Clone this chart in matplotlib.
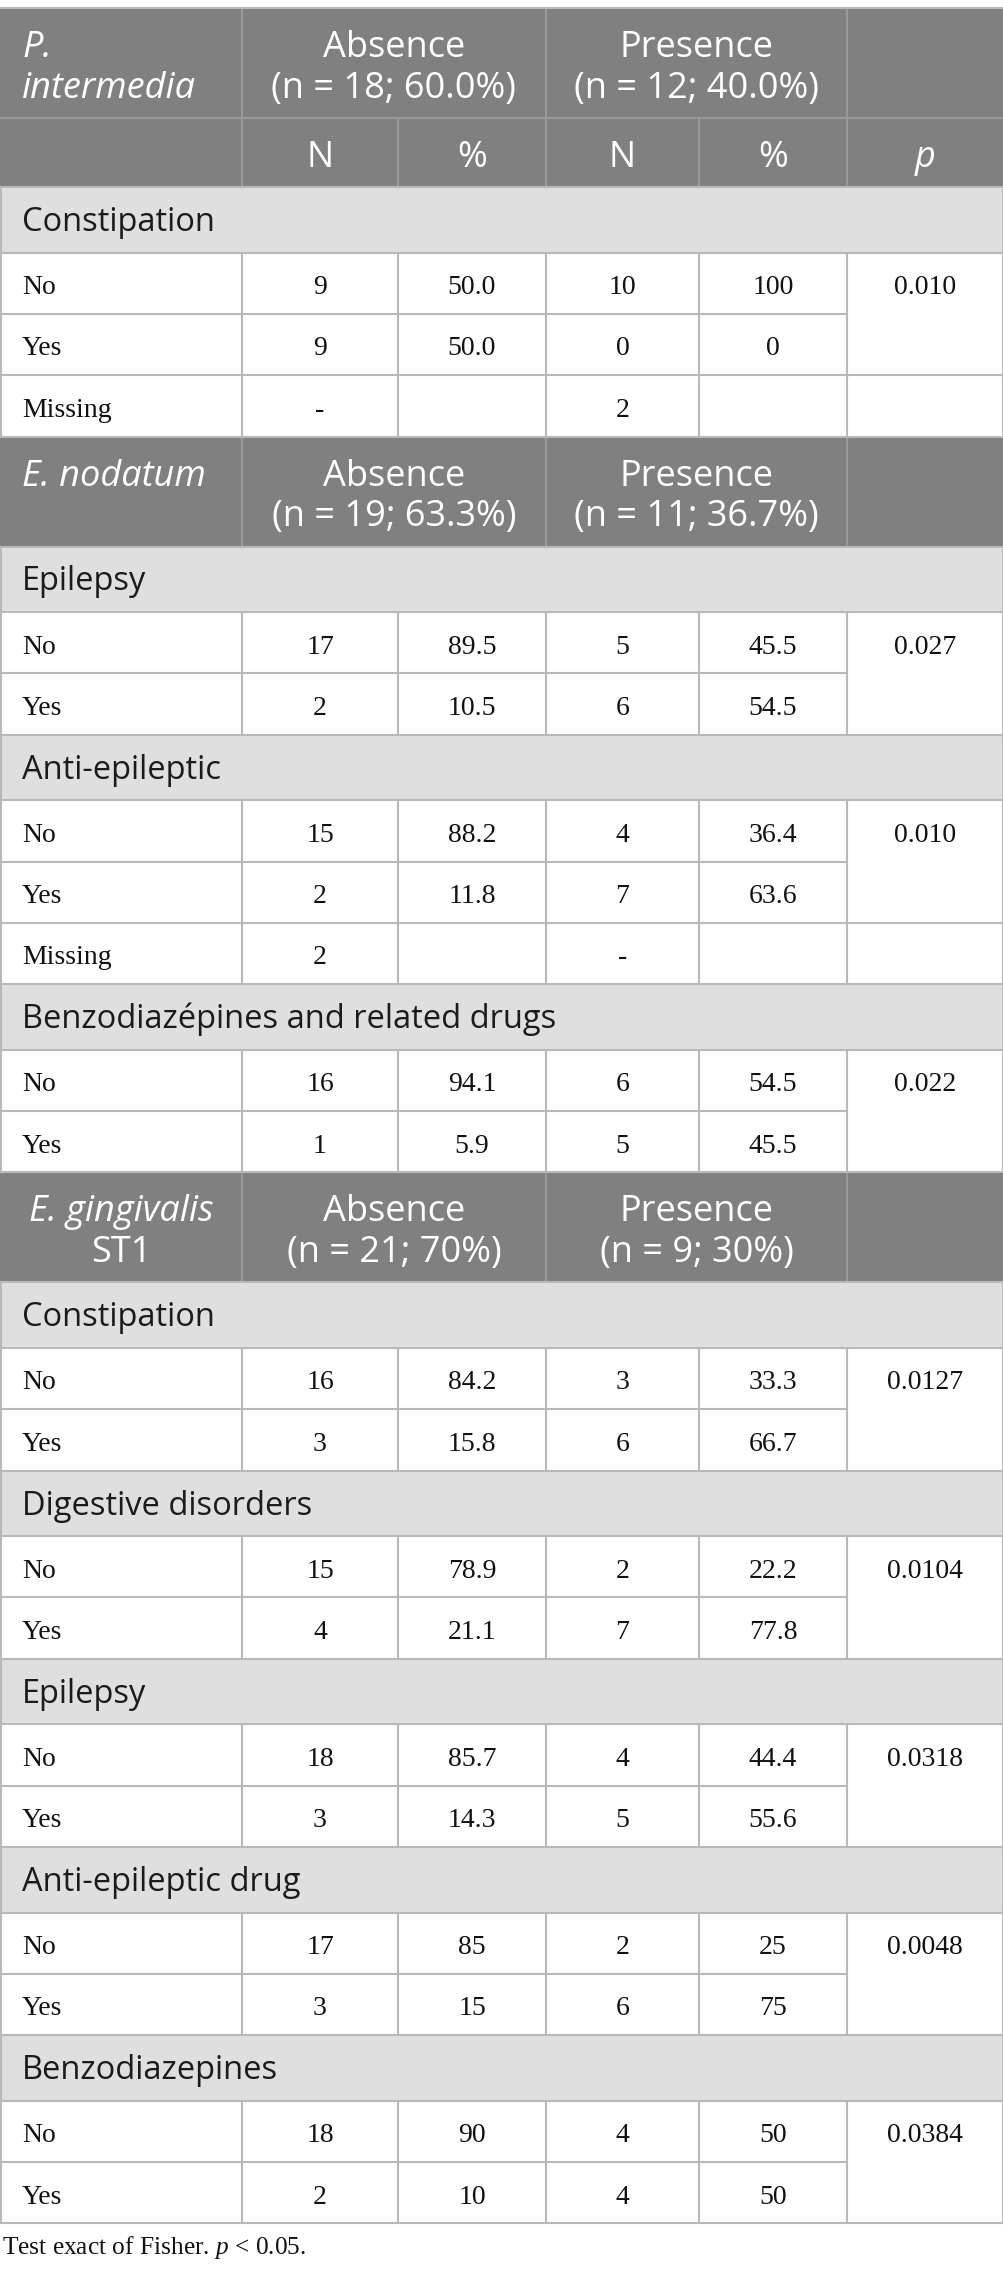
import matplotlib.pyplot as plt
from matplotlib.patches import Rectangle

# Table data
block_titles = [["P.", "intermedia"], ["E. nodatum"], ["E. gingivalis", "ST1"]]
absence_labels = ["(n = 18; 60.0%)", "(n = 19; 63.3%)", "(n = 21; 70%)"]
presence_labels = ["(n = 12; 40.0%)", "(n = 11; 36.7%)", "(n = 9; 30%)"]
sub_headers = ["N", "%", "N", "%", "p"]

variables = ["Constipation", "Epilepsy", "Anti-epileptic",
             "Benzodiazépines and related drugs", "Constipation",
             "Digestive disorders", "Epilepsy", "Anti-epileptic drug",
             "Benzodiazepines"]
variable_block = [0, 1, 1, 1, 2, 2, 2, 2, 2]
row_labels = [["No", "Yes", "Missing"], ["No", "Yes"], ["No", "Yes", "Missing"],
              ["No", "Yes"], ["No", "Yes"], ["No", "Yes"], ["No", "Yes"],
              ["No", "Yes"], ["No", "Yes"]]
absence_n = [["9", "9", "-"], ["17", "2"], ["15", "2", "2"], ["16", "1"],
             ["16", "3"], ["15", "4"], ["18", "3"], ["17", "3"], ["18", "2"]]
absence_pct = [["50.0", "50.0", ""], ["89.5", "10.5"], ["88.2", "11.8", ""],
               ["94.1", "5.9"], ["84.2", "15.8"], ["78.9", "21.1"],
               ["85.7", "14.3"], ["85", "15"], ["90", "10"]]
presence_n = [["10", "0", "2"], ["5", "6"], ["4", "7", "-"], ["6", "5"],
              ["3", "6"], ["2", "7"], ["4", "5"], ["2", "6"], ["4", "4"]]
presence_pct = [["100", "0", ""], ["45.5", "54.5"], ["36.4", "63.6", ""],
                ["54.5", "45.5"], ["33.3", "66.7"], ["22.2", "77.8"],
                ["44.4", "55.6"], ["25", "75"], ["50", "50"]]
p_values = ["0.010", "0.027", "0.010", "0.022", "0.0127", "0.0104",
            "0.0318", "0.0048", "0.0384"]
footnote = r"Test exact of Fisher. $p$ < 0.05."

# Layout (pixels)
W, H = 1004, 2277
col_x = [0, 242, 398, 546, 699, 847, 1003]
TOP = 8
HEAD_H = 110
SUB_H = 69
SEC_H = 65.6
ROW_H = 61.3

DARK = "#7f807f"
LIGHT = "#e0dfe0"
HEAD_LINE = "#999999"
GRID = "#b9b9b9"
SANS = "Open Sans"
SERIF = "Liberation Serif"

plt.rcParams["mathtext.fontset"] = "custom"
plt.rcParams["mathtext.rm"] = SERIF
plt.rcParams["mathtext.it"] = SERIF + ":italic"

fig = plt.figure(figsize=(W / 100, H / 100), dpi=100)
ax = fig.add_axes([0, 0, 1, 1])
ax.set_xlim(0, W)
ax.set_ylim(H, 0)
ax.axis("off")

centers = [(col_x[i] + col_x[i + 1]) / 2 for i in range(1, 6)]


def hline(y, x0, x1, color=GRID):
    ax.plot([x0, x1], [y, y], color=color, lw=1.5, solid_capstyle="butt", zorder=3)


def vline(x, y0, y1, color=GRID):
    ax.plot([x, x], [y0, y1], color=color, lw=1.5, solid_capstyle="butt", zorder=3)


y = TOP
for b in range(3):
    # Block header
    ax.add_patch(Rectangle((0, y), W - 1, HEAD_H, color=DARK, lw=0, zorder=1))
    for x in [col_x[1], col_x[3], col_x[5]]:
        vline(x, y, y + HEAD_H, HEAD_LINE)
    hline(y, 0, W - 1)
    title = block_titles[b]
    if b == 2:
        ax.text(col_x[1] / 2, y + 49, title[0], fontsize=26, family=SANS,
                style="italic", color="white", ha="center", va="baseline", zorder=4)
        ax.text(col_x[1] / 2, y + 90, title[1], fontsize=26, family=SANS,
                color="white", ha="center", va="baseline", zorder=4)
    else:
        for k, line in enumerate(title):
            ax.text(22, y + 49 + 41 * k, line, fontsize=26, family=SANS,
                    style="italic", color="white", ha="left", va="baseline", zorder=4)
    for x_mid, word, label in [((col_x[1] + col_x[3]) / 2, "Absence", absence_labels[b]),
                               ((col_x[3] + col_x[5]) / 2, "Presence", presence_labels[b])]:
        ax.text(x_mid, y + 49, word, fontsize=26, family=SANS, color="white",
                ha="center", va="baseline", zorder=4)
        ax.text(x_mid, y + 90, label, fontsize=26, family=SANS, color="white",
                ha="center", va="baseline", zorder=4)
    y += HEAD_H

    # Sub header only in first block
    if b == 0:
        ax.add_patch(Rectangle((0, y), W - 1, SUB_H, color=DARK, lw=0, zorder=1))
        hline(y, 0, W - 1, HEAD_LINE)
        for x in col_x[1:6]:
            vline(x, y, y + SUB_H, HEAD_LINE)
        for x_mid, label in zip(centers, sub_headers):
            ax.text(x_mid, y + 49, label, fontsize=26, family=SANS, color="white",
                    style="italic" if label == "p" else "normal",
                    ha="center", va="baseline", zorder=4)
        y += SUB_H

    for v in range(len(variables)):
        if variable_block[v] != b:
            continue
        # Section row
        ax.add_patch(Rectangle((0, y), W - 1, SEC_H, color=LIGHT, lw=0, zorder=1))
        hline(y, 0, W - 1)
        vline(0.75, y, y + SEC_H)
        vline(W - 1, y, y + SEC_H)
        ax.text(22, y + 44, variables[v], fontsize=23.5, family=SANS, color="#1b1b1b",
                ha="left", va="baseline", zorder=4)
        y += SEC_H

        # Data rows, p value sits in a cell merged over No / Yes
        for r, label in enumerate(row_labels[v]):
            if r == 1:
                hline(y, 0, col_x[5])
            else:
                hline(y, 0, W - 1)
            vline(0.75, y, y + ROW_H)
            for x in col_x[1:]:
                vline(x, y, y + ROW_H)
            ax.text(22, y + 41.5, label, fontsize=20, family=SERIF, color="#111111",
                    ha="left", va="baseline", zorder=4)
            cells = [absence_n[v][r], absence_pct[v][r],
                     presence_n[v][r], presence_pct[v][r]]
            for x_mid, val in zip(centers[:4], cells):
                ax.text(x_mid, y + 41.5, val, fontsize=20, family=SERIF,
                        color="#111111", ha="center", va="baseline", zorder=4)
            if r == 0:
                ax.text(centers[4], y + 41.5, p_values[v], fontsize=20, family=SERIF,
                        color="#111111", ha="center", va="baseline", zorder=4)
            y += ROW_H

hline(y, 0, W - 1)

# Footnote
ax.text(2, y + 31, footnote, fontsize=18.3, family=SERIF, color="#111111",
        ha="left", va="baseline")

fig.savefig("out.png", dpi=100, facecolor="white")
